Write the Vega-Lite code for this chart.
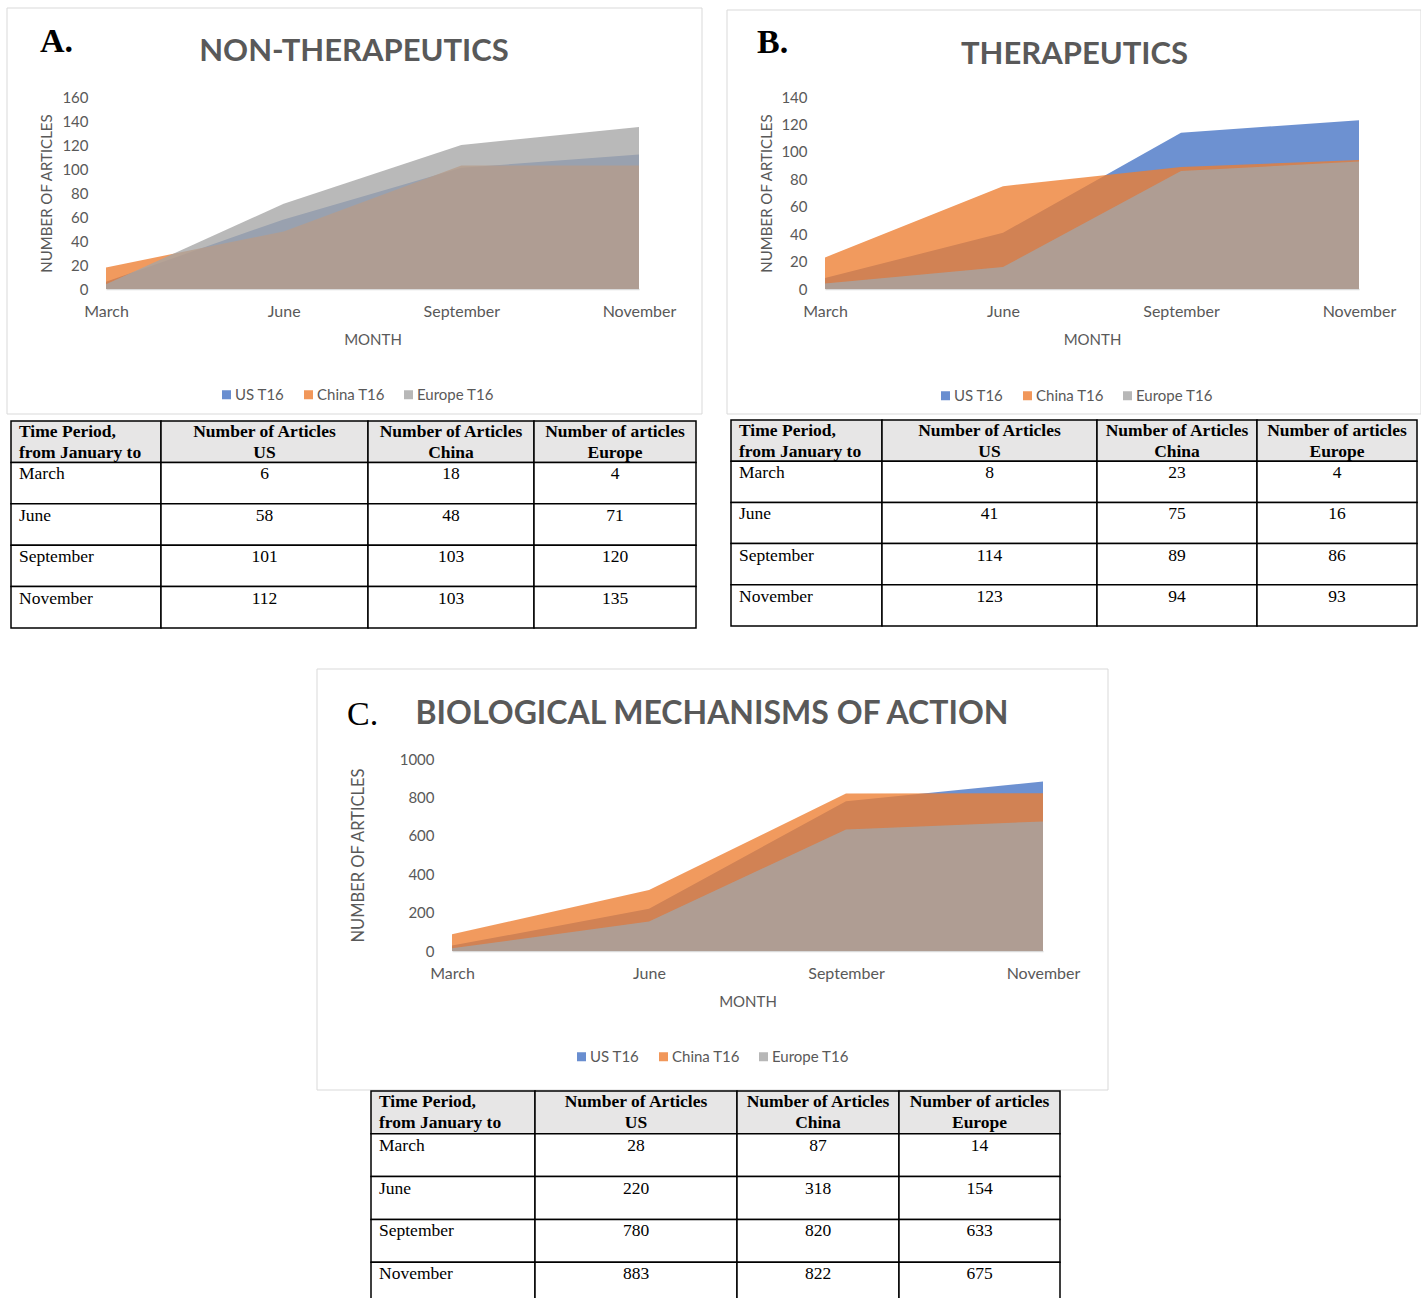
{
  "$schema": "https://vega.github.io/schema/vega-lite/v6.json",
  "autosize": {"type": "none"},
  "padding": {"left": 106, "top": 97, "right": 1315, "bottom": 1201},
  "background": "white",
  "datasets": {
    "articles": [
      {"panel": "A", "month": "March", "region": "US", "n": 6},
      {"panel": "A", "month": "March", "region": "China", "n": 18},
      {"panel": "A", "month": "March", "region": "Europe", "n": 4},
      {"panel": "A", "month": "June", "region": "US", "n": 58},
      {"panel": "A", "month": "June", "region": "China", "n": 48},
      {"panel": "A", "month": "June", "region": "Europe", "n": 71},
      {"panel": "A", "month": "September", "region": "US", "n": 101},
      {"panel": "A", "month": "September", "region": "China", "n": 103},
      {"panel": "A", "month": "September", "region": "Europe", "n": 120},
      {"panel": "A", "month": "November", "region": "US", "n": 112},
      {"panel": "A", "month": "November", "region": "China", "n": 103},
      {"panel": "A", "month": "November", "region": "Europe", "n": 135},
      {"panel": "B", "month": "March", "region": "US", "n": 8},
      {"panel": "B", "month": "March", "region": "China", "n": 23},
      {"panel": "B", "month": "March", "region": "Europe", "n": 4},
      {"panel": "B", "month": "June", "region": "US", "n": 41},
      {"panel": "B", "month": "June", "region": "China", "n": 75},
      {"panel": "B", "month": "June", "region": "Europe", "n": 16},
      {"panel": "B", "month": "September", "region": "US", "n": 114},
      {"panel": "B", "month": "September", "region": "China", "n": 89},
      {"panel": "B", "month": "September", "region": "Europe", "n": 86},
      {"panel": "B", "month": "November", "region": "US", "n": 123},
      {"panel": "B", "month": "November", "region": "China", "n": 94},
      {"panel": "B", "month": "November", "region": "Europe", "n": 93},
      {"panel": "C", "month": "March", "region": "US", "n": 28},
      {"panel": "C", "month": "March", "region": "China", "n": 87},
      {"panel": "C", "month": "March", "region": "Europe", "n": 14},
      {"panel": "C", "month": "June", "region": "US", "n": 220},
      {"panel": "C", "month": "June", "region": "China", "n": 318},
      {"panel": "C", "month": "June", "region": "Europe", "n": 154},
      {"panel": "C", "month": "September", "region": "US", "n": 780},
      {"panel": "C", "month": "September", "region": "China", "n": 820},
      {"panel": "C", "month": "September", "region": "Europe", "n": 633},
      {"panel": "C", "month": "November", "region": "US", "n": 883},
      {"panel": "C", "month": "November", "region": "China", "n": 822},
      {"panel": "C", "month": "November", "region": "Europe", "n": 675}
    ],
    "header": [
      {"col": "period", "month": "header", "text": "Time Period,\nfrom January to"},
      {"col": "US", "month": "header", "text": "Number of Articles\nUS"},
      {"col": "China", "month": "header", "text": "Number of Articles\nChina"},
      {"col": "Europe", "month": "header", "text": "Number of articles\nEurope"}
    ],
    "panels": [
      {"panel": "A", "letter": "A."},
      {"panel": "B", "letter": "B."},
      {"panel": "C", "letter": "C."}
    ]
  },
  "columns": 2,
  "bounds": "flush",
  "align": "none",
  "spacing": {"row": 131, "column": 186},
  "resolve": {"scale": {"color": "independent"}, "legend": {"color": "independent"}},
  "concat": [
    {
      "width": 533, "height": 531,
      "title": {"text": "NON-THERAPEUTICS", "dx": -18.5, "offset": -60.5},
      "resolve": {"scale": {"x": "independent", "y": "independent"}},
      "layer": [
        {
          "data": {"name": "panels"},
          "transform": [{"filter": "datum.panel == 'A'"}],
          "mark": {"type": "rect", "filled": false, "stroke": "#d9d9d9", "strokeWidth": 1},
          "encoding": {
            "x": {"datum": "frame", "type": "nominal", "scale": {"range": [-99, 596], "paddingInner": 0, "paddingOuter": 0}, "axis": null},
            "y": {"datum": "frame", "type": "nominal", "scale": {"range": [-89, 317], "paddingInner": 0, "paddingOuter": 0}, "axis": null}
          }
        },
        {
          "layer": [
            {
              "data": {"name": "articles"},
              "transform": [{"filter": "datum.panel == 'A'"}],
              "mark": {"type": "area", "opacity": 0.78},
              "encoding": {
                "x": {"field": "month", "type": "nominal", "title": "MONTH", "scale": {"type": "point", "padding": 0, "domain": ["March", "June", "September", "November"]}, "axis": {"offset": -339, "titleY": 50, "titleBaseline": "middle"}},
                "y": {"field": "n", "type": "quantitative", "stack": null, "title": "NUMBER OF ARTICLES", "scale": {"domain": [0, 160], "range": [192, 0]}, "axis": {"values": [0, 20, 40, 60, 80, 100, 120, 140, 160], "titleX": -60, "titleY": 96, "titleBaseline": "middle", "titleFontSize": 15}},
                "color": {"field": "region", "type": "nominal", "scale": {"domain": ["US", "China", "Europe"], "range": ["#4472C4", "#ED7D31", "#A5A5A5"]}, "legend": {"title": null, "legendX": 113, "legendY": 290, "labelExpr": "datum.label + ' T16'"}}
              }
            },
            {
              "data": {"name": "panels"},
              "transform": [{"filter": "datum.panel == 'A'"}],
              "mark": {"type": "text", "font": "Liberation Serif", "fontSize": 34, "fontWeight": "bold", "color": "black", "align": "left", "baseline": "alphabetic", "dx": -66, "dy": -45},
              "encoding": {
                "x": {"datum": "March", "type": "nominal", "title": "MONTH", "scale": {"type": "point", "padding": 0, "domain": ["March", "June", "September", "November"]}},
                "y": {"datum": 160, "type": "quantitative", "title": "NUMBER OF ARTICLES", "scale": {"domain": [0, 160], "range": [192, 0]}},
                "text": {"field": "letter"}
              }
            }
          ]
        },
        {
          "encoding": {
            "x": {"datum": "period", "type": "nominal", "scale": {"range": [-95, 55], "paddingInner": 0, "paddingOuter": 0}, "axis": null},
            "y": {"field": "month", "type": "nominal", "scale": {"domain": ["header", "March", "June", "September", "November"], "range": [324, 531], "paddingInner": 0, "paddingOuter": 0}, "axis": null}
          },
          "layer": [
            {"data": {"name": "header"}, "transform": [{"filter": "datum.col == 'period'"}], "mark": {"type": "rect", "fill": "#e7e6e6", "stroke": "black", "strokeWidth": 1.5}},
            {"data": {"name": "header"}, "transform": [{"filter": "datum.col == 'period'"}], "mark": {"type": "text", "font": "Liberation Serif", "fontSize": 17.5, "fontWeight": "bold", "baseline": "top", "align": "left", "dx": 8, "dy": 2, "lineHeight": 21, "lineBreak": "\n", "color": "black"},
             "encoding": {"x": {"datum": "period", "type": "nominal", "bandPosition": 0, "scale": {"range": [-95, 55], "paddingInner": 0, "paddingOuter": 0}, "axis": null}, "y": {"field": "month", "type": "nominal", "bandPosition": 0, "scale": {"domain": ["header", "March", "June", "September", "November"], "range": [324, 531], "paddingInner": 0, "paddingOuter": 0}, "axis": null}, "text": {"field": "text"}}},
            {"data": {"name": "articles"}, "transform": [{"filter": "datum.panel == 'A' && datum.region == 'US'"}], "mark": {"type": "rect", "fill": "white", "stroke": "black", "strokeWidth": 1.5}},
            {"data": {"name": "articles"}, "transform": [{"filter": "datum.panel == 'A' && datum.region == 'US'"}], "mark": {"type": "text", "font": "Liberation Serif", "fontSize": 17.5, "baseline": "top", "align": "left", "dx": 8, "dy": 3, "color": "black"},
             "encoding": {"x": {"datum": "period", "type": "nominal", "bandPosition": 0, "scale": {"range": [-95, 55], "paddingInner": 0, "paddingOuter": 0}, "axis": null}, "y": {"field": "month", "type": "nominal", "bandPosition": 0, "scale": {"domain": ["header", "March", "June", "September", "November"], "range": [324, 531], "paddingInner": 0, "paddingOuter": 0}, "axis": null}, "text": {"field": "month"}}}
          ]
        },
        {
          "encoding": {
            "x": {"datum": "US", "type": "nominal", "scale": {"range": [55, 262], "paddingInner": 0, "paddingOuter": 0}, "axis": null},
            "y": {"field": "month", "type": "nominal", "scale": {"domain": ["header", "March", "June", "September", "November"], "range": [324, 531], "paddingInner": 0, "paddingOuter": 0}, "axis": null}
          },
          "layer": [
            {"data": {"name": "header"}, "transform": [{"filter": "datum.col == 'US'"}], "mark": {"type": "rect", "fill": "#e7e6e6", "stroke": "black", "strokeWidth": 1.5}},
            {"data": {"name": "header"}, "transform": [{"filter": "datum.col == 'US'"}], "mark": {"type": "text", "font": "Liberation Serif", "fontSize": 17.5, "fontWeight": "bold", "baseline": "top", "align": "center", "dy": 2, "lineHeight": 21, "lineBreak": "\n", "color": "black"},
             "encoding": {"y": {"field": "month", "type": "nominal", "bandPosition": 0, "scale": {"domain": ["header", "March", "June", "September", "November"], "range": [324, 531], "paddingInner": 0, "paddingOuter": 0}, "axis": null}, "text": {"field": "text"}}},
            {"data": {"name": "articles"}, "transform": [{"filter": "datum.panel == 'A' && datum.region == 'US'"}], "mark": {"type": "rect", "fill": "white", "stroke": "black", "strokeWidth": 1.5}},
            {"data": {"name": "articles"}, "transform": [{"filter": "datum.panel == 'A' && datum.region == 'US'"}], "mark": {"type": "text", "font": "Liberation Serif", "fontSize": 17.5, "baseline": "top", "align": "center", "dy": 3, "color": "black"},
             "encoding": {"y": {"field": "month", "type": "nominal", "bandPosition": 0, "scale": {"domain": ["header", "March", "June", "September", "November"], "range": [324, 531], "paddingInner": 0, "paddingOuter": 0}, "axis": null}, "text": {"field": "n"}}}
          ]
        },
        {
          "encoding": {
            "x": {"datum": "China", "type": "nominal", "scale": {"range": [262, 428], "paddingInner": 0, "paddingOuter": 0}, "axis": null},
            "y": {"field": "month", "type": "nominal", "scale": {"domain": ["header", "March", "June", "September", "November"], "range": [324, 531], "paddingInner": 0, "paddingOuter": 0}, "axis": null}
          },
          "layer": [
            {"data": {"name": "header"}, "transform": [{"filter": "datum.col == 'China'"}], "mark": {"type": "rect", "fill": "#e7e6e6", "stroke": "black", "strokeWidth": 1.5}},
            {"data": {"name": "header"}, "transform": [{"filter": "datum.col == 'China'"}], "mark": {"type": "text", "font": "Liberation Serif", "fontSize": 17.5, "fontWeight": "bold", "baseline": "top", "align": "center", "dy": 2, "lineHeight": 21, "lineBreak": "\n", "color": "black"},
             "encoding": {"y": {"field": "month", "type": "nominal", "bandPosition": 0, "scale": {"domain": ["header", "March", "June", "September", "November"], "range": [324, 531], "paddingInner": 0, "paddingOuter": 0}, "axis": null}, "text": {"field": "text"}}},
            {"data": {"name": "articles"}, "transform": [{"filter": "datum.panel == 'A' && datum.region == 'China'"}], "mark": {"type": "rect", "fill": "white", "stroke": "black", "strokeWidth": 1.5}},
            {"data": {"name": "articles"}, "transform": [{"filter": "datum.panel == 'A' && datum.region == 'China'"}], "mark": {"type": "text", "font": "Liberation Serif", "fontSize": 17.5, "baseline": "top", "align": "center", "dy": 3, "color": "black"},
             "encoding": {"y": {"field": "month", "type": "nominal", "bandPosition": 0, "scale": {"domain": ["header", "March", "June", "September", "November"], "range": [324, 531], "paddingInner": 0, "paddingOuter": 0}, "axis": null}, "text": {"field": "n"}}}
          ]
        },
        {
          "encoding": {
            "x": {"datum": "Europe", "type": "nominal", "scale": {"range": [428, 590], "paddingInner": 0, "paddingOuter": 0}, "axis": null},
            "y": {"field": "month", "type": "nominal", "scale": {"domain": ["header", "March", "June", "September", "November"], "range": [324, 531], "paddingInner": 0, "paddingOuter": 0}, "axis": null}
          },
          "layer": [
            {"data": {"name": "header"}, "transform": [{"filter": "datum.col == 'Europe'"}], "mark": {"type": "rect", "fill": "#e7e6e6", "stroke": "black", "strokeWidth": 1.5}},
            {"data": {"name": "header"}, "transform": [{"filter": "datum.col == 'Europe'"}], "mark": {"type": "text", "font": "Liberation Serif", "fontSize": 17.5, "fontWeight": "bold", "baseline": "top", "align": "center", "dy": 2, "lineHeight": 21, "lineBreak": "\n", "color": "black"},
             "encoding": {"y": {"field": "month", "type": "nominal", "bandPosition": 0, "scale": {"domain": ["header", "March", "June", "September", "November"], "range": [324, 531], "paddingInner": 0, "paddingOuter": 0}, "axis": null}, "text": {"field": "text"}}},
            {"data": {"name": "articles"}, "transform": [{"filter": "datum.panel == 'A' && datum.region == 'Europe'"}], "mark": {"type": "rect", "fill": "white", "stroke": "black", "strokeWidth": 1.5}},
            {"data": {"name": "articles"}, "transform": [{"filter": "datum.panel == 'A' && datum.region == 'Europe'"}], "mark": {"type": "text", "font": "Liberation Serif", "fontSize": 17.5, "baseline": "top", "align": "center", "dy": 3, "color": "black"},
             "encoding": {"y": {"field": "month", "type": "nominal", "bandPosition": 0, "scale": {"domain": ["header", "March", "June", "September", "November"], "range": [324, 531], "paddingInner": 0, "paddingOuter": 0}, "axis": null}, "text": {"field": "n"}}}
          ]
        }
      ]
    },
    {
      "width": 534, "height": 529,
      "title": {"text": "THERAPEUTICS", "dx": -17.5, "offset": -61.5},
      "resolve": {"scale": {"x": "independent", "y": "independent"}},
      "layer": [
        {
          "data": {"name": "panels"},
          "transform": [{"filter": "datum.panel == 'B'"}],
          "mark": {"type": "rect", "filled": false, "stroke": "#d9d9d9", "strokeWidth": 1},
          "encoding": {
            "x": {"datum": "frame", "type": "nominal", "scale": {"range": [-98, 596], "paddingInner": 0, "paddingOuter": 0}, "axis": null},
            "y": {"datum": "frame", "type": "nominal", "scale": {"range": [-87, 317], "paddingInner": 0, "paddingOuter": 0}, "axis": null}
          }
        },
        {
          "layer": [
            {
              "data": {"name": "articles"},
              "transform": [{"filter": "datum.panel == 'B'"}],
              "mark": {"type": "area", "opacity": 0.78},
              "encoding": {
                "x": {"field": "month", "type": "nominal", "title": "MONTH", "scale": {"type": "point", "padding": 0, "domain": ["March", "June", "September", "November"]}, "axis": {"offset": -337, "titleY": 50, "titleBaseline": "middle"}},
                "y": {"field": "n", "type": "quantitative", "stack": null, "title": "NUMBER OF ARTICLES", "scale": {"domain": [0, 140], "range": [192, 0]}, "axis": {"values": [0, 20, 40, 60, 80, 100, 120, 140], "titleX": -59, "titleY": 96, "titleBaseline": "middle", "titleFontSize": 15}},
                "color": {"field": "region", "type": "nominal", "scale": {"domain": ["US", "China", "Europe"], "range": ["#4472C4", "#ED7D31", "#A5A5A5"]}, "legend": {"title": null, "legendX": 113, "legendY": 291, "labelExpr": "datum.label + ' T16'"}}
              }
            },
            {
              "data": {"name": "panels"},
              "transform": [{"filter": "datum.panel == 'B'"}],
              "mark": {"type": "text", "font": "Liberation Serif", "fontSize": 34, "fontWeight": "bold", "color": "black", "align": "left", "baseline": "alphabetic", "dx": -68, "dy": -44},
              "encoding": {
                "x": {"datum": "March", "type": "nominal", "title": "MONTH", "scale": {"type": "point", "padding": 0, "domain": ["March", "June", "September", "November"]}},
                "y": {"datum": 140, "type": "quantitative", "title": "NUMBER OF ARTICLES", "scale": {"domain": [0, 140], "range": [192, 0]}},
                "text": {"field": "letter"}
              }
            }
          ]
        },
        {
          "encoding": {
            "x": {"datum": "period", "type": "nominal", "scale": {"range": [-94, 57], "paddingInner": 0, "paddingOuter": 0}, "axis": null},
            "y": {"field": "month", "type": "nominal", "scale": {"domain": ["header", "March", "June", "September", "November"], "range": [323, 529], "paddingInner": 0, "paddingOuter": 0}, "axis": null}
          },
          "layer": [
            {"data": {"name": "header"}, "transform": [{"filter": "datum.col == 'period'"}], "mark": {"type": "rect", "fill": "#e7e6e6", "stroke": "black", "strokeWidth": 1.5}},
            {"data": {"name": "header"}, "transform": [{"filter": "datum.col == 'period'"}], "mark": {"type": "text", "font": "Liberation Serif", "fontSize": 17.5, "fontWeight": "bold", "baseline": "top", "align": "left", "dx": 8, "dy": 2, "lineHeight": 21, "lineBreak": "\n", "color": "black"},
             "encoding": {"x": {"datum": "period", "type": "nominal", "bandPosition": 0, "scale": {"range": [-94, 57], "paddingInner": 0, "paddingOuter": 0}, "axis": null}, "y": {"field": "month", "type": "nominal", "bandPosition": 0, "scale": {"domain": ["header", "March", "June", "September", "November"], "range": [323, 529], "paddingInner": 0, "paddingOuter": 0}, "axis": null}, "text": {"field": "text"}}},
            {"data": {"name": "articles"}, "transform": [{"filter": "datum.panel == 'B' && datum.region == 'US'"}], "mark": {"type": "rect", "fill": "white", "stroke": "black", "strokeWidth": 1.5}},
            {"data": {"name": "articles"}, "transform": [{"filter": "datum.panel == 'B' && datum.region == 'US'"}], "mark": {"type": "text", "font": "Liberation Serif", "fontSize": 17.5, "baseline": "top", "align": "left", "dx": 8, "dy": 3, "color": "black"},
             "encoding": {"x": {"datum": "period", "type": "nominal", "bandPosition": 0, "scale": {"range": [-94, 57], "paddingInner": 0, "paddingOuter": 0}, "axis": null}, "y": {"field": "month", "type": "nominal", "bandPosition": 0, "scale": {"domain": ["header", "March", "June", "September", "November"], "range": [323, 529], "paddingInner": 0, "paddingOuter": 0}, "axis": null}, "text": {"field": "month"}}}
          ]
        },
        {
          "encoding": {
            "x": {"datum": "US", "type": "nominal", "scale": {"range": [57, 272], "paddingInner": 0, "paddingOuter": 0}, "axis": null},
            "y": {"field": "month", "type": "nominal", "scale": {"domain": ["header", "March", "June", "September", "November"], "range": [323, 529], "paddingInner": 0, "paddingOuter": 0}, "axis": null}
          },
          "layer": [
            {"data": {"name": "header"}, "transform": [{"filter": "datum.col == 'US'"}], "mark": {"type": "rect", "fill": "#e7e6e6", "stroke": "black", "strokeWidth": 1.5}},
            {"data": {"name": "header"}, "transform": [{"filter": "datum.col == 'US'"}], "mark": {"type": "text", "font": "Liberation Serif", "fontSize": 17.5, "fontWeight": "bold", "baseline": "top", "align": "center", "dy": 2, "lineHeight": 21, "lineBreak": "\n", "color": "black"},
             "encoding": {"y": {"field": "month", "type": "nominal", "bandPosition": 0, "scale": {"domain": ["header", "March", "June", "September", "November"], "range": [323, 529], "paddingInner": 0, "paddingOuter": 0}, "axis": null}, "text": {"field": "text"}}},
            {"data": {"name": "articles"}, "transform": [{"filter": "datum.panel == 'B' && datum.region == 'US'"}], "mark": {"type": "rect", "fill": "white", "stroke": "black", "strokeWidth": 1.5}},
            {"data": {"name": "articles"}, "transform": [{"filter": "datum.panel == 'B' && datum.region == 'US'"}], "mark": {"type": "text", "font": "Liberation Serif", "fontSize": 17.5, "baseline": "top", "align": "center", "dy": 3, "color": "black"},
             "encoding": {"y": {"field": "month", "type": "nominal", "bandPosition": 0, "scale": {"domain": ["header", "March", "June", "September", "November"], "range": [323, 529], "paddingInner": 0, "paddingOuter": 0}, "axis": null}, "text": {"field": "n"}}}
          ]
        },
        {
          "encoding": {
            "x": {"datum": "China", "type": "nominal", "scale": {"range": [272, 432], "paddingInner": 0, "paddingOuter": 0}, "axis": null},
            "y": {"field": "month", "type": "nominal", "scale": {"domain": ["header", "March", "June", "September", "November"], "range": [323, 529], "paddingInner": 0, "paddingOuter": 0}, "axis": null}
          },
          "layer": [
            {"data": {"name": "header"}, "transform": [{"filter": "datum.col == 'China'"}], "mark": {"type": "rect", "fill": "#e7e6e6", "stroke": "black", "strokeWidth": 1.5}},
            {"data": {"name": "header"}, "transform": [{"filter": "datum.col == 'China'"}], "mark": {"type": "text", "font": "Liberation Serif", "fontSize": 17.5, "fontWeight": "bold", "baseline": "top", "align": "center", "dy": 2, "lineHeight": 21, "lineBreak": "\n", "color": "black"},
             "encoding": {"y": {"field": "month", "type": "nominal", "bandPosition": 0, "scale": {"domain": ["header", "March", "June", "September", "November"], "range": [323, 529], "paddingInner": 0, "paddingOuter": 0}, "axis": null}, "text": {"field": "text"}}},
            {"data": {"name": "articles"}, "transform": [{"filter": "datum.panel == 'B' && datum.region == 'China'"}], "mark": {"type": "rect", "fill": "white", "stroke": "black", "strokeWidth": 1.5}},
            {"data": {"name": "articles"}, "transform": [{"filter": "datum.panel == 'B' && datum.region == 'China'"}], "mark": {"type": "text", "font": "Liberation Serif", "fontSize": 17.5, "baseline": "top", "align": "center", "dy": 3, "color": "black"},
             "encoding": {"y": {"field": "month", "type": "nominal", "bandPosition": 0, "scale": {"domain": ["header", "March", "June", "September", "November"], "range": [323, 529], "paddingInner": 0, "paddingOuter": 0}, "axis": null}, "text": {"field": "n"}}}
          ]
        },
        {
          "encoding": {
            "x": {"datum": "Europe", "type": "nominal", "scale": {"range": [432, 592], "paddingInner": 0, "paddingOuter": 0}, "axis": null},
            "y": {"field": "month", "type": "nominal", "scale": {"domain": ["header", "March", "June", "September", "November"], "range": [323, 529], "paddingInner": 0, "paddingOuter": 0}, "axis": null}
          },
          "layer": [
            {"data": {"name": "header"}, "transform": [{"filter": "datum.col == 'Europe'"}], "mark": {"type": "rect", "fill": "#e7e6e6", "stroke": "black", "strokeWidth": 1.5}},
            {"data": {"name": "header"}, "transform": [{"filter": "datum.col == 'Europe'"}], "mark": {"type": "text", "font": "Liberation Serif", "fontSize": 17.5, "fontWeight": "bold", "baseline": "top", "align": "center", "dy": 2, "lineHeight": 21, "lineBreak": "\n", "color": "black"},
             "encoding": {"y": {"field": "month", "type": "nominal", "bandPosition": 0, "scale": {"domain": ["header", "March", "June", "September", "November"], "range": [323, 529], "paddingInner": 0, "paddingOuter": 0}, "axis": null}, "text": {"field": "text"}}},
            {"data": {"name": "articles"}, "transform": [{"filter": "datum.panel == 'B' && datum.region == 'Europe'"}], "mark": {"type": "rect", "fill": "white", "stroke": "black", "strokeWidth": 1.5}},
            {"data": {"name": "articles"}, "transform": [{"filter": "datum.panel == 'B' && datum.region == 'Europe'"}], "mark": {"type": "text", "font": "Liberation Serif", "fontSize": 17.5, "baseline": "top", "align": "center", "dy": 3, "color": "black"},
             "encoding": {"y": {"field": "month", "type": "nominal", "bandPosition": 0, "scale": {"domain": ["header", "March", "June", "September", "November"], "range": [323, 529], "paddingInner": 0, "paddingOuter": 0}, "axis": null}, "text": {"field": "n"}}}
          ]
        }
      ]
    },
    {
      "width": 533, "height": 546,
      "title": {"text": "BIOLOGICAL MECHANISMS OF ACTION", "fontSize": 32, "dx": 339.5, "offset": -62.5},
      "resolve": {"scale": {"x": "independent", "y": "independent"}},
      "layer": [
        {
          "data": {"name": "panels"},
          "transform": [{"filter": "datum.panel == 'C'"}],
          "mark": {"type": "rect", "filled": false, "stroke": "#d9d9d9", "strokeWidth": 1},
          "encoding": {
            "x": {"datum": "frame", "type": "nominal", "scale": {"range": [211, 1002], "paddingInner": 0, "paddingOuter": 0}, "axis": null},
            "y": {"datum": "frame", "type": "nominal", "scale": {"range": [-90, 331], "paddingInner": 0, "paddingOuter": 0}, "axis": null}
          }
        },
        {
          "layer": [
            {
              "data": {"name": "articles"},
              "transform": [{"filter": "datum.panel == 'C'"}],
              "mark": {"type": "area", "opacity": 0.78},
              "encoding": {
                "x": {"field": "month", "type": "nominal", "title": "MONTH", "scale": {"type": "point", "padding": 0, "domain": ["March", "June", "September", "November"], "range": [346, 937]}, "axis": {"offset": -354, "titleY": 50, "titleX": 641.5, "titleBaseline": "middle"}},
                "y": {"field": "n", "type": "quantitative", "stack": null, "title": "NUMBER OF ARTICLES", "scale": {"domain": [0, 1000], "range": [192, 0]}, "axis": {"offset": -346, "format": "d", "values": [0, 200, 400, 600, 800, 1000], "titleX": -94, "titleY": 96, "titleBaseline": "middle", "titleFontSize": 16.5}},
                "color": {"field": "region", "type": "nominal", "scale": {"domain": ["US", "China", "Europe"], "range": ["#4472C4", "#ED7D31", "#A5A5A5"]}, "legend": {"title": null, "legendX": 468, "legendY": 290, "labelExpr": "datum.label + ' T16'"}}
              }
            },
            {
              "data": {"name": "panels"},
              "transform": [{"filter": "datum.panel == 'C'"}],
              "mark": {"type": "text", "font": "Liberation Serif", "fontSize": 34, "fontWeight": "normal", "color": "black", "align": "left", "baseline": "alphabetic", "dx": -105, "dy": -34},
              "encoding": {
                "x": {"datum": "March", "type": "nominal", "title": "MONTH", "scale": {"type": "point", "padding": 0, "domain": ["March", "June", "September", "November"], "range": [346, 937]}},
                "y": {"datum": 1000, "type": "quantitative", "title": "NUMBER OF ARTICLES", "scale": {"domain": [0, 1000], "range": [192, 0]}},
                "text": {"field": "letter"}
              }
            }
          ]
        },
        {
          "encoding": {
            "x": {"datum": "period", "type": "nominal", "scale": {"range": [265, 429], "paddingInner": 0, "paddingOuter": 0}, "axis": null},
            "y": {"field": "month", "type": "nominal", "scale": {"domain": ["header", "March", "June", "September", "November"], "range": [332, 546], "paddingInner": 0, "paddingOuter": 0}, "axis": null}
          },
          "layer": [
            {"data": {"name": "header"}, "transform": [{"filter": "datum.col == 'period'"}], "mark": {"type": "rect", "fill": "#e7e6e6", "stroke": "black", "strokeWidth": 1.5}},
            {"data": {"name": "header"}, "transform": [{"filter": "datum.col == 'period'"}], "mark": {"type": "text", "font": "Liberation Serif", "fontSize": 17.5, "fontWeight": "bold", "baseline": "top", "align": "left", "dx": 8, "dy": 2, "lineHeight": 21, "lineBreak": "\n", "color": "black"},
             "encoding": {"x": {"datum": "period", "type": "nominal", "bandPosition": 0, "scale": {"range": [265, 429], "paddingInner": 0, "paddingOuter": 0}, "axis": null}, "y": {"field": "month", "type": "nominal", "bandPosition": 0, "scale": {"domain": ["header", "March", "June", "September", "November"], "range": [332, 546], "paddingInner": 0, "paddingOuter": 0}, "axis": null}, "text": {"field": "text"}}},
            {"data": {"name": "articles"}, "transform": [{"filter": "datum.panel == 'C' && datum.region == 'US'"}], "mark": {"type": "rect", "fill": "white", "stroke": "black", "strokeWidth": 1.5}},
            {"data": {"name": "articles"}, "transform": [{"filter": "datum.panel == 'C' && datum.region == 'US'"}], "mark": {"type": "text", "font": "Liberation Serif", "fontSize": 17.5, "baseline": "top", "align": "left", "dx": 8, "dy": 3, "color": "black"},
             "encoding": {"x": {"datum": "period", "type": "nominal", "bandPosition": 0, "scale": {"range": [265, 429], "paddingInner": 0, "paddingOuter": 0}, "axis": null}, "y": {"field": "month", "type": "nominal", "bandPosition": 0, "scale": {"domain": ["header", "March", "June", "September", "November"], "range": [332, 546], "paddingInner": 0, "paddingOuter": 0}, "axis": null}, "text": {"field": "month"}}}
          ]
        },
        {
          "encoding": {
            "x": {"datum": "US", "type": "nominal", "scale": {"range": [429, 631], "paddingInner": 0, "paddingOuter": 0}, "axis": null},
            "y": {"field": "month", "type": "nominal", "scale": {"domain": ["header", "March", "June", "September", "November"], "range": [332, 546], "paddingInner": 0, "paddingOuter": 0}, "axis": null}
          },
          "layer": [
            {"data": {"name": "header"}, "transform": [{"filter": "datum.col == 'US'"}], "mark": {"type": "rect", "fill": "#e7e6e6", "stroke": "black", "strokeWidth": 1.5}},
            {"data": {"name": "header"}, "transform": [{"filter": "datum.col == 'US'"}], "mark": {"type": "text", "font": "Liberation Serif", "fontSize": 17.5, "fontWeight": "bold", "baseline": "top", "align": "center", "dy": 2, "lineHeight": 21, "lineBreak": "\n", "color": "black"},
             "encoding": {"y": {"field": "month", "type": "nominal", "bandPosition": 0, "scale": {"domain": ["header", "March", "June", "September", "November"], "range": [332, 546], "paddingInner": 0, "paddingOuter": 0}, "axis": null}, "text": {"field": "text"}}},
            {"data": {"name": "articles"}, "transform": [{"filter": "datum.panel == 'C' && datum.region == 'US'"}], "mark": {"type": "rect", "fill": "white", "stroke": "black", "strokeWidth": 1.5}},
            {"data": {"name": "articles"}, "transform": [{"filter": "datum.panel == 'C' && datum.region == 'US'"}], "mark": {"type": "text", "font": "Liberation Serif", "fontSize": 17.5, "baseline": "top", "align": "center", "dy": 3, "color": "black"},
             "encoding": {"y": {"field": "month", "type": "nominal", "bandPosition": 0, "scale": {"domain": ["header", "March", "June", "September", "November"], "range": [332, 546], "paddingInner": 0, "paddingOuter": 0}, "axis": null}, "text": {"field": "n"}}}
          ]
        },
        {
          "encoding": {
            "x": {"datum": "China", "type": "nominal", "scale": {"range": [631, 793], "paddingInner": 0, "paddingOuter": 0}, "axis": null},
            "y": {"field": "month", "type": "nominal", "scale": {"domain": ["header", "March", "June", "September", "November"], "range": [332, 546], "paddingInner": 0, "paddingOuter": 0}, "axis": null}
          },
          "layer": [
            {"data": {"name": "header"}, "transform": [{"filter": "datum.col == 'China'"}], "mark": {"type": "rect", "fill": "#e7e6e6", "stroke": "black", "strokeWidth": 1.5}},
            {"data": {"name": "header"}, "transform": [{"filter": "datum.col == 'China'"}], "mark": {"type": "text", "font": "Liberation Serif", "fontSize": 17.5, "fontWeight": "bold", "baseline": "top", "align": "center", "dy": 2, "lineHeight": 21, "lineBreak": "\n", "color": "black"},
             "encoding": {"y": {"field": "month", "type": "nominal", "bandPosition": 0, "scale": {"domain": ["header", "March", "June", "September", "November"], "range": [332, 546], "paddingInner": 0, "paddingOuter": 0}, "axis": null}, "text": {"field": "text"}}},
            {"data": {"name": "articles"}, "transform": [{"filter": "datum.panel == 'C' && datum.region == 'China'"}], "mark": {"type": "rect", "fill": "white", "stroke": "black", "strokeWidth": 1.5}},
            {"data": {"name": "articles"}, "transform": [{"filter": "datum.panel == 'C' && datum.region == 'China'"}], "mark": {"type": "text", "font": "Liberation Serif", "fontSize": 17.5, "baseline": "top", "align": "center", "dy": 3, "color": "black"},
             "encoding": {"y": {"field": "month", "type": "nominal", "bandPosition": 0, "scale": {"domain": ["header", "March", "June", "September", "November"], "range": [332, 546], "paddingInner": 0, "paddingOuter": 0}, "axis": null}, "text": {"field": "n"}}}
          ]
        },
        {
          "encoding": {
            "x": {"datum": "Europe", "type": "nominal", "scale": {"range": [793, 954], "paddingInner": 0, "paddingOuter": 0}, "axis": null},
            "y": {"field": "month", "type": "nominal", "scale": {"domain": ["header", "March", "June", "September", "November"], "range": [332, 546], "paddingInner": 0, "paddingOuter": 0}, "axis": null}
          },
          "layer": [
            {"data": {"name": "header"}, "transform": [{"filter": "datum.col == 'Europe'"}], "mark": {"type": "rect", "fill": "#e7e6e6", "stroke": "black", "strokeWidth": 1.5}},
            {"data": {"name": "header"}, "transform": [{"filter": "datum.col == 'Europe'"}], "mark": {"type": "text", "font": "Liberation Serif", "fontSize": 17.5, "fontWeight": "bold", "baseline": "top", "align": "center", "dy": 2, "lineHeight": 21, "lineBreak": "\n", "color": "black"},
             "encoding": {"y": {"field": "month", "type": "nominal", "bandPosition": 0, "scale": {"domain": ["header", "March", "June", "September", "November"], "range": [332, 546], "paddingInner": 0, "paddingOuter": 0}, "axis": null}, "text": {"field": "text"}}},
            {"data": {"name": "articles"}, "transform": [{"filter": "datum.panel == 'C' && datum.region == 'Europe'"}], "mark": {"type": "rect", "fill": "white", "stroke": "black", "strokeWidth": 1.5}},
            {"data": {"name": "articles"}, "transform": [{"filter": "datum.panel == 'C' && datum.region == 'Europe'"}], "mark": {"type": "text", "font": "Liberation Serif", "fontSize": 17.5, "baseline": "top", "align": "center", "dy": 3, "color": "black"},
             "encoding": {"y": {"field": "month", "type": "nominal", "bandPosition": 0, "scale": {"domain": ["header", "March", "June", "September", "November"], "range": [332, 546], "paddingInner": 0, "paddingOuter": 0}, "axis": null}, "text": {"field": "n"}}}
          ]
        }
      ]
    }
  ],
  "config": {
    "view": {"stroke": null},
    "axis": {"labelFont": "Lato", "labelColor": "#595959", "titleFont": "Lato", "titleColor": "#595959", "titleFontWeight": "normal", "ticks": false, "tickSize": 0, "domain": false, "grid": false},
    "axisY": {"grid": true, "gridColor": "#ebebeb", "labelFontSize": 15, "labelPadding": 18, "titleFontSize": 15},
    "axisX": {"domain": true, "domainColor": "#d9d9d9", "domainWidth": 1.5, "labelFontSize": 16, "labelAngle": 0, "labelPadding": 14, "titleFontSize": 15},
    "legend": {"orient": "none", "direction": "horizontal", "symbolType": "square", "symbolSize": 81, "symbolStrokeWidth": 0, "symbolOpacity": 0.8, "labelFont": "Lato", "labelFontSize": 15, "labelColor": "#595959", "labelOffset": 1, "columnPadding": 16},
    "title": {"font": "Lato", "fontWeight": "bold", "color": "#595959", "fontSize": 31, "anchor": "middle", "frame": "group", "baseline": "alphabetic", "offset": 27}
  }
}
